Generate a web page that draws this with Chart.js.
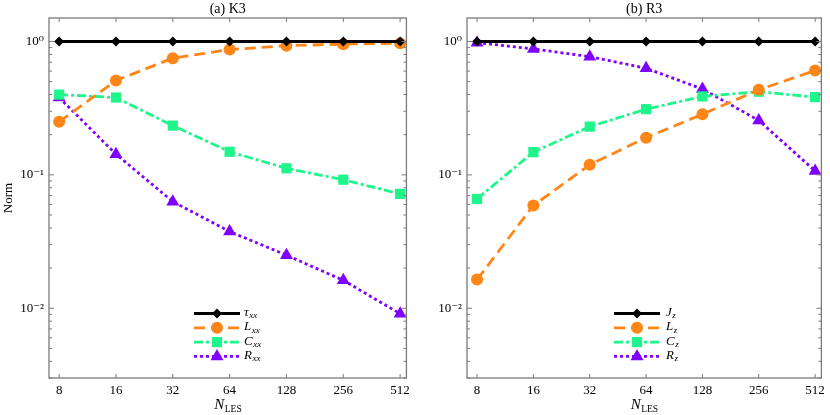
<!DOCTYPE html>
<html><head><meta charset="utf-8">
<script src="https://cdn.jsdelivr.net/npm/chart.js@4"></script>
<style>
html,body{margin:0;padding:0;background:#fff;}
#wrap{position:relative;width:830px;height:415px;}
canvas{position:absolute;top:0;}
</style></head><body>
<div id="wrap"><canvas id="c1" width="415" height="415" style="left:0"></canvas><canvas id="c2" width="415" height="415" style="left:415px"></canvas></div>
<script>
const categories = [8, 16, 32, 64, 128, 256, 512];
const yTicks = [0.01, 0.1, 1];
// K3 panel
const k3Tau = [1, 1, 1, 1, 1, 1, 1];
const k3L = [0.25, 0.51, 0.75, 0.87, 0.93, 0.955, 0.97];
const k3C = [0.40, 0.38, 0.234, 0.149, 0.112, 0.092, 0.072];
const k3R = [0.38, 0.143, 0.063, 0.0376, 0.025, 0.0162, 0.0091];
// R3 panel
const r3J = [1, 1, 1, 1, 1, 1, 1];
const r3L = [0.0164, 0.059, 0.119, 0.19, 0.285, 0.434, 0.606];
const r3C = [0.066, 0.148, 0.23, 0.311, 0.387, 0.42, 0.383];
const r3R = [0.98, 0.88, 0.77, 0.63, 0.44, 0.256, 0.107];

const COL = {k:'#000000', o:'#ff8517', g:'#1ef58a', p:'#8000ff'};
const SERIF = '"Liberation Serif", "DejaVu Serif", serif';
const SUP = {'0':'⁰','1':'¹','2':'²','-':'⁻'};

function ds(label, sub, data, color, dash, style, radius, width){
  return {label, sub, data: data.map((v,i)=>({x:categories[i], y:v})), borderColor:color, backgroundColor:color,
    borderWidth:width, borderDash:dash, pointStyle:style, pointRadius:radius, pointHoverRadius:radius,
    pointBorderWidth:0, tension:0, clip:false};
}

const framePlugin = {
  id:'frame',
  afterDatasetsDraw(chart, args, opts){
    const {ctx, chartArea:a, scales} = chart;
    ctx.save();
    ctx.strokeStyle = '#7a7a7a';
    ctx.lineWidth = 1.3;
    ctx.strokeRect(a.left, a.top, a.right-a.left, a.bottom-a.top);
    ctx.lineWidth = 1;
    categories.forEach(v=>{
      const x = scales.x.getPixelForValue(v);
      ctx.beginPath(); ctx.moveTo(x,a.bottom); ctx.lineTo(x,a.bottom-4);
      ctx.moveTo(x,a.top); ctx.lineTo(x,a.top+4); ctx.stroke();
    });
    for (let d=-3; d<=0; d++){
      for (let m=1; m<=9; m++){
        const v = m*Math.pow(10,d);
        if (v < scales.y.min || v > scales.y.max) continue;
        const y = scales.y.getPixelForValue(v);
        const len = m===1 ? 5 : 3;
        ctx.beginPath(); ctx.moveTo(a.left,y); ctx.lineTo(a.left+len,y);
        ctx.moveTo(a.right,y); ctx.lineTo(a.right-len,y); ctx.stroke();
      }
    }
    ctx.restore();
  },
  afterDraw(chart, args, opts){
    const {ctx, chartArea:a} = chart;
    ctx.save();
    ctx.fillStyle = '#000';
    ctx.textAlign = 'center'; ctx.textBaseline = 'middle';
    ctx.font = '14px ' + SERIF;
    ctx.fillText(opts.title, (a.left+a.right)/2, 9);
    const cx = (a.left+a.right)/2;
    ctx.font = 'italic 15px ' + SERIF;
    const wN = ctx.measureText('N').width;
    ctx.font = '9.5px ' + SERIF;
    const wS = ctx.measureText('LES').width;
    const x0 = cx - (wN+wS)/2;
    ctx.textAlign = 'left';
    ctx.font = 'italic 15px ' + SERIF;
    ctx.fillText('N', x0, 405);
    ctx.font = '9.5px ' + SERIF;
    ctx.fillText('LES', x0+wN+0.5, 409);
    if (opts.ylabel){
      ctx.save();
      ctx.translate(9, (a.top+a.bottom)/2);
      ctx.rotate(-Math.PI/2);
      ctx.textAlign='center';
      ctx.font = '13px ' + SERIF;
      ctx.fillText(opts.ylabel, 0, 0);
      ctx.restore();
    }
    const L = opts.legend;
    chart.data.datasets.forEach((d,i)=>{
      const y = L.y + i*14.3;
      ctx.save();
      ctx.strokeStyle = d.borderColor; ctx.lineWidth = d.borderWidth;
      ctx.setLineDash(d.borderDash || []);
      ctx.beginPath(); ctx.moveTo(L.x, y); ctx.lineTo(L.x+L.w, y); ctx.stroke();
      ctx.setLineDash([]);
      ctx.fillStyle = d.backgroundColor;
      Chart.helpers.drawPoint(ctx, {pointStyle:d.pointStyle, radius:d.pointRadius, borderWidth:0}, L.x+L.w/2, y);
      ctx.restore();
      ctx.fillStyle = '#000';
      ctx.textAlign='left'; ctx.textBaseline='middle';
      ctx.font = 'italic 13px ' + SERIF;
      ctx.fillText(d.label, L.tx, y-1);
      const w = ctx.measureText(d.label).width;
      ctx.font = 'italic 9px ' + SERIF;
      ctx.fillText(d.sub, L.tx+w+0.5, y+2.5);
    });
    ctx.restore();
  }
};

function makeChart(id, datasets, title, ylabel, padL, padR, legend){
  new Chart(document.getElementById(id), {
    type:'line',
    data:{datasets},
    plugins:[framePlugin],
    options:{
      responsive:false, animation:false, devicePixelRatio:1,
      layout:{padding:{left:0, right:padR, top:18, bottom:0}},
      plugins:{legend:{display:false}, tooltip:{enabled:false}, frame:{title, ylabel, legend}},
      scales:{
        x:{type:'logarithmic', min:7.07, max:553,
          afterBuildTicks:s=>{s.ticks = categories.map(v=>({value:v, major:true}));},
          afterFit:s=>{s.height = 37;},
          grid:{display:false, drawTicks:false}, border:{display:false},
          ticks:{autoSkip:false, maxRotation:0, padding:5, color:'#000', font:{family:SERIF, size:13},
            callback:v=>String(v)}},
        y:{type:'logarithmic', min:0.003, max:1.5,
          afterBuildTicks:s=>{s.ticks = yTicks.map(v=>({value:v, major:true}));},
          afterFit:s=>{s.width = padL;},
          grid:{display:false, drawTicks:false}, border:{display:false},
          ticks:{autoSkip:false, padding:5, color:'#000', font:{family:SERIF, size:13},
            callback:v=>{const e=Math.round(Math.log10(v)); return '10'+String(e).split('').map(c=>SUP[c]).join('');}}}
      }
    }
  });
}

makeChart('c1', [
  ds('τ','xx', k3Tau, COL.k, [], 'rectRot', 5, 3),
  ds('L','xx', k3L, COL.o, [11,6], 'circle', 6, 2.8),
  ds('C','xx', k3C, COL.g, [9,3,3,3], 'rect', 7.2, 2.8),
  ds('R','xx', k3R, COL.p, [3,3], 'triangle', 7.5, 2.8)
], '(a) K3', 'Norm', 49, 6, {x:194, w:46, tx:244, y:313.5});

makeChart('c2', [
  ds('J','z', r3J, COL.k, [], 'rectRot', 5, 3),
  ds('L','z', r3L, COL.o, [11,6], 'circle', 6, 2.8),
  ds('C','z', r3C, COL.g, [9,3,3,3], 'rect', 7.2, 2.8),
  ds('R','z', r3R, COL.p, [3,3], 'triangle', 7.5, 2.8)
], '(b) R3', null, 52, 4.5, {x:199, w:46, tx:251, y:313.5});
</script>
</body></html>
